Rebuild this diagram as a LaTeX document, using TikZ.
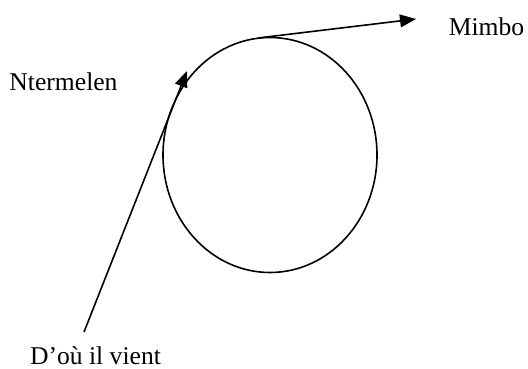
\documentclass[tikz,border=0pt]{standalone}
\usepackage{fontspec}
\setmainfont{Liberation Serif}
\usetikzlibrary{arrows.meta,shapes.geometric}
\begin{document}
\begin{tikzpicture}[x=0.5pt,y=-0.5pt,
  lbl/.style={font=\fontsize{12.8}{15}\selectfont, inner sep=0pt, anchor=center},
  conn/.style={line width=0.8pt, -{Triangle[length=8pt,width=6.4pt]}},
  circ/.style={draw, line width=0.8pt, ellipse, minimum width=107pt, minimum height=117.5pt, inner sep=0pt}]
\useasboundingbox (0,0) rectangle (528,368);
\node[circ] (c) at (270,155) {};
\coordinate (s1) at (84,332);
\coordinate (t1) at (187,71);
\coordinate (s2) at (258,38);
\coordinate (t2) at (416,19);
\draw[conn] (s1) -- (t1);
\draw[conn] (s2) -- (t2);
\node[lbl] (mimbo) at (486.5,27) {Mimbo};
\node[lbl] (nterm) at (63.5,82) {Ntermelen};
\node[lbl] (dou) at (95.5,356) {D’où il vient};
\end{tikzpicture}
\end{document}
